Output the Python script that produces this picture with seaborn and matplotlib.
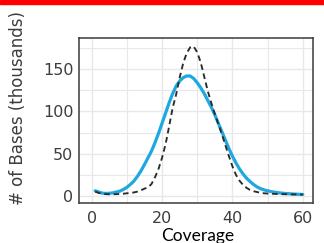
import numpy as np
import pandas as pd
import seaborn as sns
import matplotlib
matplotlib.use("Agg")
import matplotlib.pyplot as plt
from matplotlib.ticker import MultipleLocator

# ---- Data ----------------------------------------------------------------
coverage = list(range(1, 61))

observed = [
    6, 4.5, 3.2, 2.8, 3, 3.5, 4.5, 5.5, 7.5, 10,
    13.5, 17.5, 23, 29.5, 37, 45, 53, 63, 74, 86,
    98, 110, 121, 130, 136, 140, 142, 142, 139, 134,
    128, 121, 113, 105, 96, 86, 76, 66, 56, 47,
    39, 32, 26, 21, 17, 13.5, 10.5, 8.5, 7, 6,
    5, 4.3, 3.7, 3.2, 2.8, 2.5, 2.2, 2, 1.8, 1.6,
]

expected = [
    5, 3.5, 2.5, 2, 1.8, 1.8, 2, 2.2, 2.5, 3,
    3.5, 4, 5, 6.5, 8.5, 10, 14, 22, 32, 45,
    61, 82, 104, 120, 140, 157, 169, 176, 177, 170,
    158, 141, 124, 110, 97, 85, 73, 60, 47, 35,
    25, 18, 13, 9.5, 7, 5.5, 4.5, 3.5, 3, 2.7,
    2.5, 2.3, 2.1, 2, 1.9, 1.8, 1.7, 1.7, 1.6, 1.6,
]

x_ticks = [0, 20, 40, 60]
y_ticks = [0, 50, 100, 150]

df = pd.DataFrame({"coverage": coverage, "observed": observed, "expected": expected})

sns.set_theme(style="whitegrid")
plt.rcParams["font.family"] = ["DejaVu Sans"]

fig = plt.figure(figsize=(3.24, 2.43), dpi=100)
ax = fig.add_axes([79 / 324, 1 - 203 / 243, (313 - 79) / 324, (203 - 38) / 243])

sns.lineplot(data=df, x="coverage", y="observed", ax=ax, color="#1fa8e0", lw=2.3)
sns.lineplot(data=df, x="coverage", y="expected", ax=ax, color="#2b2b2b", lw=1.35,
             linestyle=(0, (3, 2)))

ax.set_xlim(-3.6, 62.9)
ax.set_ylim(-8.5, 187)
ax.set_xticks(x_ticks)
ax.set_yticks(y_ticks)
ax.xaxis.set_minor_locator(MultipleLocator(10))
ax.yaxis.set_minor_locator(MultipleLocator(25))

ax.grid(True, which="major", color="#e8e8e8", lw=1.0)
ax.grid(True, which="minor", color="#e8e8e8", lw=0.8)
ax.set_axisbelow(True)
ax.set_facecolor("white")

for s in ax.spines.values():
    s.set_visible(True)
    s.set_color("#3a3a3a")
    s.set_linewidth(1.1)

ax.tick_params(which="major", length=2.5, width=0.8, color="#3a3a3a",
               labelsize=11.5, labelcolor="#3d3d3d", pad=1.5)
ax.tick_params(axis="x", which="major", pad=3)
ax.tick_params(which="minor", length=0)
ax.set_xlabel("")
ax.set_ylabel("")

fig.text(198 / 324, 1 - 236 / 243, "Coverage", ha="center", va="center",
         fontsize=12.5, family=["Lato", "DejaVu Sans"], color="black")
fig.text(18.5 / 324, 1 - 107.5 / 243, "# of Bases (thousands)", rotation=90,
         ha="center", va="center", fontsize=12, color="#3d3d3d")

# red bar along the top edge
fig.patches.append(plt.Rectangle((0, 1 - 4 / 243), 1, 4 / 243, transform=fig.transFigure,
                                 color="#ff0000", zorder=10))

fig.savefig("out.png", dpi=100)
